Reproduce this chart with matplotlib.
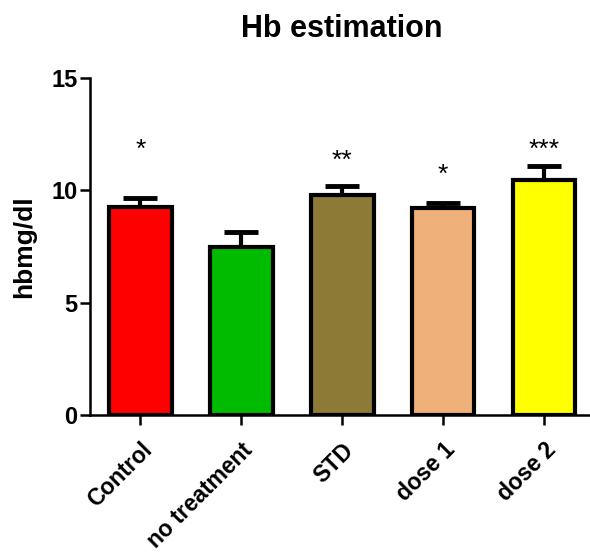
import matplotlib.pyplot as plt

plt.rcParams['font.family'] = ['Liberation Sans', 'DejaVu Sans']

groups = ['Control', 'no treatment', 'STD', 'dose 1', 'dose 2']
means = [9.25, 7.48, 9.78, 9.2, 10.48]
errs = [0.42, 0.67, 0.42, 0.25, 0.62]
stars = ['*', '', '**', '*', '***']
star_y = [11.8, None, 11.3, 10.7, 11.8]
colors = ['#ff0000', '#00bb00', '#8c7a36', '#f0b07a', '#ffff00']

fig = plt.figure(figsize=(5.9, 5.54), dpi=100)
ax = fig.add_axes([0.1525, 0.251, 0.85, 0.608])

x = range(len(groups))
ax.bar(x, means, width=0.62, color=colors, edgecolor='black', linewidth=3, zorder=3)
ax.errorbar(x, means, yerr=[[0] * len(errs), errs], fmt='none', ecolor='black',
            elinewidth=3, capsize=12, capthick=3.5, zorder=2)

for i, s in enumerate(stars):
    if s:
        ax.text(i, star_y[i], s, ha='center', va='center', fontsize=19)

ax.set_xlim(-0.5, 4.47)
ax.set_ylim(0, 15)
ax.set_yticks([0, 5, 10, 15])
ax.set_xticks(list(x))
ax.set_xticklabels(groups, rotation=45, ha='right', rotation_mode='anchor',
                   fontsize=16.5, fontweight='bold')
for lab in ax.get_yticklabels():
    lab.set_fontsize(17)
    lab.set_fontweight('bold')
ax.set_ylabel('hbmg/dl', fontsize=19, fontweight='bold', labelpad=11)
fig.suptitle('Hb estimation', x=0.58, y=0.975, fontsize=22, fontweight='bold')

ax.spines['top'].set_visible(False)
ax.spines['right'].set_visible(False)
ax.spines['left'].set_linewidth(1.8)
ax.spines['bottom'].set_linewidth(1.8)
ax.tick_params(axis='both', width=1.8, length=7, pad=2)
ax.tick_params(axis='x', pad=10)

fig.savefig('out.png', dpi=100)
